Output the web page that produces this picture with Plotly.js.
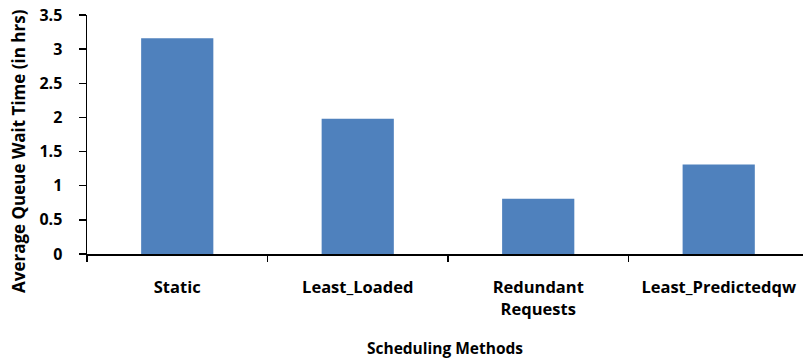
<!DOCTYPE html>
<html>
<head>
<meta charset="utf-8">
<script src="https://cdn.plot.ly/plotly-3.0.1.min.js"></script>
<style>html,body{margin:0;padding:0;background:#fff;}#chart{width:803px;height:362px;}</style>
</head>
<body>
<div id="chart"></div>
<script>
const categories = ["Static", "Least_Loaded", "Redundant<br>Requests", "Least_Predictedqw"];
const waitHours = [3.16, 1.98, 0.81, 1.31];
const yTicks = [0, 0.5, 1, 1.5, 2, 2.5, 3, 3.5];
const yTickLabels = ["0", "0.5", "1", "1.5", "2", "2.5", "3", "3.5"];
const xTitle = "Scheduling Methods";
const yTitle = "Average Queue Wait Time (in hrs)";

const fontFam = "Open Sans, Noto Sans, sans-serif";
const trace = {
  type: "bar",
  x: categories,
  y: waitHours,
  marker: {color: "#4F81BD"},
  hoverinfo: "none"
};
const layout = {
  width: 803, height: 362,
  margin: {l: 87, r: 0, t: 15, b: 108},
  paper_bgcolor: "#fff", plot_bgcolor: "#fff",
  showlegend: false,
  bargap: 0.6,
  font: {family: fontFam, color: "#000"},
  xaxis: {
    range: [-0.5, 3.467],
    tickson: "boundaries",
    ticks: "outside", ticklen: 6, tickwidth: 1.5, tickcolor: "#000",
    showline: true, linecolor: "#000", linewidth: 1.5,
    showgrid: false, zeroline: false,
    tickfont: {size: 16.5, family: fontFam, weight: "bold", color: "#000"},
    ticklabelstandoff: 18,
    title: {text: xTitle, font: {size: 15.5, family: fontFam, weight: "bold", color: "#000"}, standoff: 24},
    automargin: false
  },
  yaxis: {
    range: [0, 3.5],
    tickvals: yTicks, ticktext: yTickLabels,
    ticks: "outside", ticklen: 7, tickwidth: 1.5, tickcolor: "#000",
    showline: true, linecolor: "#000", linewidth: 1.5,
    showgrid: false, zeroline: false,
    tickfont: {size: 16, family: fontFam, weight: "bold", color: "#000"},
    ticklabelstandoff: 13,
    automargin: false
  },
  annotations: [{
    text: yTitle,
    xref: "paper", yref: "paper",
    x: -0.095, y: 0.431,
    xanchor: "center", yanchor: "middle",
    textangle: -90, showarrow: false,
    font: {size: 17, family: fontFam, weight: "bold", color: "#000"}
  }]
};
Plotly.newPlot("chart", [trace], layout, {displayModeBar: false, staticPlot: true});
</script>
</body>
</html>
